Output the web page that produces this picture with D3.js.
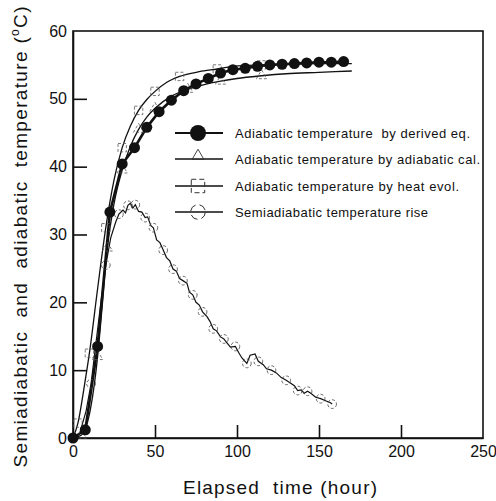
<!DOCTYPE html>
<html>
<head>
<meta charset="utf-8">
<script src="https://cdn.jsdelivr.net/npm/d3@7"></script>
<style>
  body { margin: 0; background: #fff; }
  text { font-family: Arial, "Liberation Sans", sans-serif; fill: #111; }
</style>
</head>
<body>
<svg id="chart" width="496" height="501"></svg>
<script>
// values (hour, degC)
var xTicks = [0, 50, 100, 150, 200, 250];
var yTicks = [0, 10, 20, 30, 40, 50, 60];

var derivedEq = [
  [0, 0], [7.5, 1.2], [15, 13.5], [22.5, 33.3], [30, 40.4], [37.5, 42.8],
  [45, 45.8], [52.5, 48.1], [60, 49.8], [67.5, 51.2], [75, 52.2], [82.5, 53.0],
  [90, 53.8], [97.5, 54.3], [105, 54.5], [112.5, 54.8], [120, 55.0],
  [127.5, 55.1], [135, 55.2], [142.5, 55.3], [150, 55.4], [157.5, 55.4], [165, 55.5]
];

var adiabaticCal = [
  [0, 0], [5, 0.4], [10, 3.5], [15, 12], [18, 20], [21, 28], [25, 34.5],
  [30, 39.5], [35, 43], [40, 45.5], [45, 47.3], [50, 48.6], [60, 50.4],
  [70, 51.4], [80, 52.1], [90, 52.6], [100, 53.0], [115, 53.4], [130, 53.7],
  [150, 53.9], [170, 54.1]
];

var heatEvol = [
  [0, 0], [3, 2.2], [7, 7.8], [10, 12.5], [15, 22], [20, 31], [25, 38],
  [30, 42.8], [35, 46], [40, 48.3], [45, 49.9], [50, 51.1], [57, 52.4],
  [65, 53.3], [77, 54.0], [88, 54.4], [98, 54.8], [115, 55.0], [135, 55.1],
  [150, 55.2], [170, 55.2]
];

var semiAdiabatic = [
  [0, 0], [4, 0.6], [8, 4], [11, 8], [14, 14], [17, 20], [20, 25.5],
  [23, 29.5], [26, 31.8], [28, 33], [30.5, 33.6], [32, 33.2], [33.5, 34.3],
  [35, 34.6], [36.5, 33.9], [38, 34.4], [40, 33.4], [42, 33.3], [44, 32.5],
  [45.5, 32.6], [47.5, 31.3], [49, 31.0], [51, 29.2], [53, 28.8], [55, 27.7],
  [57, 26.6], [59, 26.1], [61, 24.9], [63, 24.6], [65, 23.5], [67, 23.2],
  [69.5, 22.8], [71, 21.5], [73, 21.1], [75, 20.0], [77, 19.6], [79, 18.6],
  [81.7, 17.9], [83.5, 17.2], [85.5, 16.1], [87.5, 15.8], [90, 14.9],
  [92, 14.6], [94, 14.0], [96, 13.4], [99, 13.5], [101, 12.6], [103, 11.8],
  [106, 11.0], [108, 12.2], [111, 12.4], [113, 11.3], [116, 10.8],
  [118, 10.2], [121, 10.0], [124, 9.6], [127, 8.9], [130, 8.5], [132.5, 8.1],
  [135, 7.7], [137, 7.0], [139, 7.1], [141, 6.6], [143, 6.9], [145, 6.6],
  [148, 6.0], [151, 5.8], [154, 5.5], [157, 5.2], [158, 5.0]
];

var legendLabels = [
  "Adiabatic temperature  by derived eq.",
  "Adiabatic temperature by adiabatic cal.",
  "Adiabatic temperature by heat evol.",
  "Semiadiabatic temperature rise"
];

var svg = d3.select("#chart");
var margin = {left: 73, top: 31, right: 13, bottom: 63};
var width = 496 - margin.left - margin.right;
var height = 501 - margin.top - margin.bottom;

var x = d3.scaleLinear().domain([0, 250]).range([0, width]);
var y = d3.scaleLinear().domain([0, 60]).range([height, 0]);

var g = svg.append("g")
    .attr("transform", "translate(" + margin.left + "," + margin.top + ")");

// frame
g.append("rect")
    .attr("x", 0).attr("y", 0)
    .attr("width", width).attr("height", height)
    .attr("fill", "none")
    .attr("stroke", "#111")
    .attr("stroke-width", 1.6);

// axes, ticks pointing inward
var xAxis = g.append("g")
    .attr("transform", "translate(0," + height + ")")
    .call(d3.axisBottom(x).tickValues(xTicks).tickSizeInner(-13).tickSizeOuter(0).tickPadding(8));
var yAxis = g.append("g")
    .call(d3.axisLeft(y).tickValues(yTicks).tickSizeInner(-14).tickSizeOuter(0).tickPadding(6));

[xAxis, yAxis].forEach(function(a){
    a.select(".domain").attr("stroke", "#111").attr("stroke-width", 1.6);
    a.selectAll(".tick line").attr("stroke", "#111").attr("stroke-width", 1.6);
    a.selectAll(".tick text")
        .attr("font-size", 16)
        .attr("font-family", "Arial, 'Liberation Sans', sans-serif")
        .attr("fill", "#111");
});
// no inner tick at the corners
xAxis.selectAll(".tick").filter(function(d){ return d === 0 || d === 250; }).select("line").remove();
yAxis.selectAll(".tick").filter(function(d){ return d === 0 || d === 60; }).select("line").remove();

var line = d3.line()
    .x(function(d){ return x(d[0]); })
    .y(function(d){ return y(d[1]); });
var smooth = d3.line()
    .x(function(d){ return x(d[0]); })
    .y(function(d){ return y(d[1]); })
    .curve(d3.curveMonotoneX);

// curves
g.append("path").datum(heatEvol)
    .attr("d", smooth).attr("fill", "none")
    .attr("stroke", "#111").attr("stroke-width", 1.3);
g.append("path").datum(adiabaticCal)
    .attr("d", smooth).attr("fill", "none")
    .attr("stroke", "#111").attr("stroke-width", 1.3);
g.append("path").datum(semiAdiabatic)
    .attr("d", line).attr("fill", "none")
    .attr("stroke", "#111").attr("stroke-width", 1.2);
g.append("path").datum(derivedEq)
    .attr("d", line).attr("fill", "none")
    .attr("stroke", "#111").attr("stroke-width", 2.6);

// hollow markers, drawn faintly like in the scan
var sym = {
    tri: d3.symbol().type(d3.symbolTriangle).size(45),
    sq: d3.symbol().type(d3.symbolSquare).size(70),
    circ: d3.symbol().type(d3.symbolCircle).size(60)
};
g.selectAll("path.sq").data(heatEvol.filter(function(d, i){ return i % 2 == 1 && d[0] < 120; }))
    .enter().append("path").attr("class", "sq")
    .attr("d", sym.sq)
    .attr("transform", function(d){ return "translate(" + x(d[0]) + "," + y(d[1]) + ")"; })
    .attr("fill", "none").attr("stroke", "#555").attr("stroke-width", 0.8)
    .attr("stroke-dasharray", "3,2");
g.selectAll("path.tri").data(adiabaticCal.filter(function(d, i){ return i % 2 == 1 && d[0] < 120; }))
    .enter().append("path").attr("class", "tri")
    .attr("d", sym.tri)
    .attr("transform", function(d){ return "translate(" + x(d[0]) + "," + y(d[1]) + ")"; })
    .attr("fill", "none").attr("stroke", "#555").attr("stroke-width", 0.8)
    .attr("stroke-dasharray", "3,2");
g.selectAll("path.circ").data(semiAdiabatic.filter(function(d, i){ return i % 3 == 0; }))
    .enter().append("path").attr("class", "circ")
    .attr("d", sym.circ)
    .attr("transform", function(d){ return "translate(" + x(d[0]) + "," + y(d[1]) + ")"; })
    .attr("fill", "none").attr("stroke", "#444").attr("stroke-width", 0.8)
    .attr("stroke-dasharray", "3,2");

g.selectAll("circle.dot").data(derivedEq)
    .enter().append("circle").attr("class", "dot")
    .attr("cx", function(d){ return x(d[0]); })
    .attr("cy", function(d){ return y(d[1]); })
    .attr("r", 5.5)
    .attr("fill", "#111");

// legend
var rowY = [0, 26, 53, 79];
var textLen = [235, 245, 224, 193];
var lg = svg.append("g").attr("transform", "translate(175,133)");
var rows = lg.selectAll("g").data(legendLabels).enter().append("g")
    .attr("transform", function(d, i){ return "translate(0," + rowY[i] + ")"; });
rows.append("line")
    .attr("x1", 0).attr("x2", 48).attr("y1", 0).attr("y2", 0)
    .attr("stroke", "#111")
    .attr("stroke-width", function(d, i){ return i == 0 ? 1.8 : 1.6; });
rows.append("text")
    .attr("x", 60).attr("y", 5)
    .attr("font-size", 13)
    .attr("textLength", function(d, i){ return textLen[i]; })
    .attr("lengthAdjust", "spacing")
    .style("white-space", "pre")
    .text(function(d){ return d; });
lg.append("circle").attr("cx", 23).attr("cy", rowY[0]).attr("r", 8).attr("fill", "#111");
lg.append("path").attr("d", d3.symbol().type(d3.symbolTriangle).size(60))
    .attr("transform", "translate(23," + (rowY[1] - 3) + ")")
    .attr("fill", "none").attr("stroke", "#333").attr("stroke-width", 0.9);
lg.append("path").attr("d", d3.symbol().type(d3.symbolSquare).size(180))
    .attr("transform", "translate(23," + rowY[2] + ")")
    .attr("fill", "none").attr("stroke", "#333").attr("stroke-width", 1)
    .attr("stroke-dasharray", "5,3");
lg.append("path").attr("d", d3.symbol().type(d3.symbolCircle).size(170))
    .attr("transform", "translate(23," + rowY[3] + ")")
    .attr("fill", "none").attr("stroke", "#333").attr("stroke-width", 1)
    .attr("stroke-dasharray", "8,4");

// titles
svg.append("text")
    .attr("x", 280).attr("y", 494)
    .attr("text-anchor", "middle")
    .attr("font-size", 19)
    .attr("textLength", 194)
    .attr("lengthAdjust", "spacing")
    .style("white-space", "pre")
    .text("Elapsed  time (hour)");

var yt = svg.append("text")
    .attr("transform", "translate(27,237) rotate(-90)")
    .attr("text-anchor", "middle")
    .attr("font-size", 19)
    .attr("textLength", 461)
    .attr("lengthAdjust", "spacing")
    .style("white-space", "pre");
yt.append("tspan").text("Semiadiabatic  and  adiabatic  temperature (");
yt.append("tspan").attr("font-size", 12).attr("dy", -8).text("o");
yt.append("tspan").attr("dy", 8).text("C)");
</script>
</body>
</html>
